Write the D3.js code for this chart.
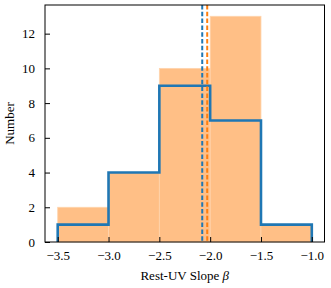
<!DOCTYPE html>
<html><head><meta charset="utf-8">
<script src="https://cdn.jsdelivr.net/npm/d3@7"></script>
<style>body{margin:0;background:#fff}svg{display:block}text{fill:#000}</style>
</head><body><svg id="c" width="331" height="288" font-family="'Liberation Serif','Times New Roman',serif"></svg>
<script>
const binEdges = [-3.5, -3.0, -2.5, -2.0, -1.5, -1.0];
const orangeCounts = [2, 4, 10, 13, 1];
const blueCounts = [1, 4, 9, 7, 1];
const medianBlue = -2.078;
const medianOrange = -2.029;
const xTicks = [-3.5, -3.0, -2.5, -2.0, -1.5, -1.0];
const yTicks = [0, 2, 4, 6, 8, 10, 12];

const FONT = "'Liberation Serif','Times New Roman',serif";
const svg = d3.select("#c");
const L = 45, R = 324.5, T = 5, B = 242;
const x = d3.scaleLinear().domain([-3.625, -0.875]).range([L, R]);
const y = d3.scaleLinear().domain([0, 13.65]).range([B, T]);

const g = svg.append("g");
g.selectAll("rect.o").data(orangeCounts).enter().append("rect")
  .attr("x", (d,i)=>x(binEdges[i]))
  .attr("width", (d,i)=>x(binEdges[i+1])-x(binEdges[i]))
  .attr("y", d=>y(d)).attr("height", d=>y(0)-y(d))
  .attr("fill", "#ffbf86").attr("stroke", "#ffd4ad").attr("stroke-width", 0.8);

const pts = [[binEdges[0], 0]];
blueCounts.forEach((c,i)=>{ pts.push([binEdges[i], c]); pts.push([binEdges[i+1], c]); });
pts.push([binEdges[binEdges.length-1], 0]);
g.append("path").datum(pts)
  .attr("d", d3.line().x(d=>x(d[0])).y(d=>y(d[1])))
  .attr("fill", "none").attr("stroke", "#1f77b4").attr("stroke-width", 2.6)
  .attr("stroke-linejoin", "miter");

[[medianBlue, "#1f77b4"], [medianOrange, "#ff7f0e"]].forEach(([v,c])=>{
  g.append("line").attr("x1", x(v)).attr("x2", x(v)).attr("y1", T).attr("y2", B)
   .attr("stroke", c).attr("stroke-width", 2).attr("stroke-dasharray", "4.5,2.3");
});

svg.append("rect").attr("x", L).attr("y", T).attr("width", R-L).attr("height", B-T)
  .attr("fill", "none").attr("stroke", "#000").attr("stroke-width", 1);

const xa = svg.append("g").attr("transform", `translate(0,${B})`)
  .call(d3.axisBottom(x).tickValues(xTicks).tickSizeInner(-5).tickSizeOuter(0).tickPadding(9)
    .tickFormat(d=>d3.format(".1f")(d).replace("-", "\u2212")))
  .attr("font-family", FONT).attr("font-size", 13);
xa.select(".domain").remove();
xa.selectAll("line").attr("stroke", "#000");

const ya = svg.append("g").attr("transform", `translate(${L},0)`)
  .call(d3.axisLeft(y).tickValues(yTicks).tickSizeInner(-5).tickSizeOuter(0).tickPadding(10))
  .attr("font-family", FONT).attr("font-size", 13);
ya.select(".domain").remove();
ya.selectAll("line").attr("stroke", "#000");

svg.append("text").attr("x", (L+R)/2).attr("y", 280).attr("text-anchor", "middle")
  .attr("font-size", 13).html('Rest-UV Slope <tspan font-style="italic">β</tspan>');
svg.append("text").attr("transform", `translate(14,${(T+B)/2}) rotate(-90)`)
  .attr("text-anchor", "middle").attr("font-size", 13).text("Number");
</script></body></html>
